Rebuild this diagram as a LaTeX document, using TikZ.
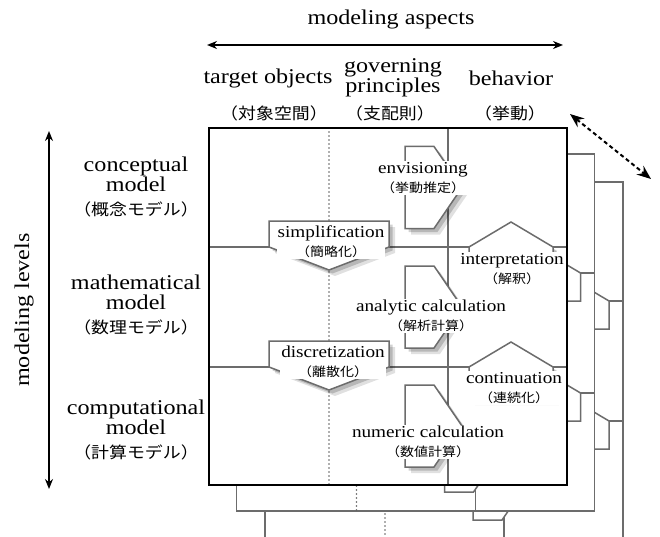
\documentclass[tikz,border=0pt]{standalone}
\usepackage{fontspec}
\setmainfont{Liberation Serif}[FakeStretch=1.15]
\newfontfamily\cjk{Noto Sans CJK JP}[FakeStretch=1.12]
\usepackage{tikz}
\usetikzlibrary{positioning}
\usetikzlibrary{calc}
\usetikzlibrary{arrows.meta}

\definecolor{linegray}{RGB}{108,108,108}
\newcommand{\jout}[1]{{\cjk\fontsize{16}{18}\selectfont #1}}
\newcommand{\jin}[1]{{\cjk\fontsize{12.5}{14}\selectfont #1}}

\begin{document}
\begin{tikzpicture}[x=1pt,y=-1pt,
    layerbox/.style={draw=linegray,line width=1.5pt,fill=white},
    gridline/.style={draw=linegray,line width=1.5pt},
    dotline/.style={draw=linegray!90!black,line width=1.7pt,line cap=round,dash pattern=on 0pt off 4pt},
    stage/.style={draw=linegray,line width=1.5pt,fill=white},
    shade/.style={
      preaction={fill=black,opacity=0.12,transform canvas={shift={(6pt,-6pt)}}},
      preaction={fill=black,opacity=0.18,transform canvas={shift={(3.5pt,-3.5pt)}}}},
    head/.style={font=\fontsize{21}{18}\selectfont,align=center,inner sep=0pt},
    level/.style={font=\fontsize{21}{20}\selectfont,align=center,inner sep=0pt},
    jphead/.style={inner sep=0pt},
    actlabel/.style={font=\fontsize{16.7}{19}\selectfont,align=center,fill=white,inner sep=1pt},
    dbl/.style={line width=1.6pt,{Stealth[length=10pt,width=8pt]}-{Stealth[length=10pt,width=8pt]}},
  ]
\useasboundingbox (0,0) rectangle (660,537);
\clip (0,0) rectangle (660,537);

% layers behind
\foreach \dx/\dy in {56/54,27.5/26}{
  \begin{scope}[shift={(\dx,\dy)}]
    \draw[layerbox] (209,128) rectangle (567,485);
    \draw[gridline] (209,247) -- (567,247) (209,367) -- (567,367) (448,128) -- (448,485);
    \draw[dotline] (329,128) -- (329,485);
    \foreach \yr in {247,367}
      \draw[stage] (511,\yr-25) -- (553,\yr) -- (553,\yr+28) -- (469,\yr+28) -- (469,\yr) -- cycle;
    \draw[stage] (417,385) -- (446,385) -- (474,425.5) -- (446,466) -- (417,466) -- cycle;
  \end{scope}
}

% front layer
\fill[white] (209,128) rectangle (567,485);
\draw[gridline] (209,247) -- (567,247) (209,367) -- (567,367) (448,128) -- (448,485);
\draw[dotline] (329,128) -- (329,485);
\foreach \yc in {187.5,307,426}
  \draw[stage,shade] (405,\yc-41) -- (434,\yc-41) -- (462,\yc) -- (434,\yc+41) -- (405,\yc+41) -- cycle;
\foreach \yr in {247,367}{
  \draw[stage,shade] (269,\yr-26) -- (389,\yr-26) -- (389,\yr) -- (329,\yr+23) -- (269,\yr) -- cycle;
  \draw[stage,shade] (511,\yr-25) -- (553,\yr) -- (553,\yr+32) -- (469,\yr+32) -- (469,\yr) -- cycle;
}

\node[actlabel] (envis) at (423,178) {envisioning\\\jin{（挙動推定）}};
\node[actlabel] (analytic) at (431,316) {analytic calculation\\\jin{（解析計算）}};
\node[actlabel] (numeric) at (428,442) {numeric calculation\\\jin{（数値計算）}};
\node[actlabel] (simplif) at (331,242) {simplification\\\jin{（簡略化）}};
\node[actlabel] (discret) at (333,362) {discretization\\\jin{（離散化）}};
\node[actlabel] (interp) at (512,269) {interpretation\\\jin{（解釈）}};
\node[actlabel] (contin) at (514,388) {continuation\\\jin{（連続化）}};

\draw[black,line width=1.8pt] (209,128) rectangle (567,485);

% headings
\node[head] (aspects) at (391,19) {modeling aspects};
\coordinate (aspL) at (207,45);
\coordinate (aspR) at (563,45);
\draw[dbl] (aspL) -- (aspR);

\node[head] (target) at (268,78) {target objects};
\node[head] (govern) at (393,78) {governing\\principles};
\node[head] (behav) at (511,78) {behavior};
\node[jphead] (targetjp) at (274,113) {\jout{（対象空間）}};
\node[jphead] (governjp) at (390,113) {\jout{（支配則）}};
\node[jphead] (behavjp) at (510,113) {\jout{（挙動）}};

\node[head,rotate=90] (levels) at (24,310) {modeling levels};
\coordinate (levT) at (49,131);
\coordinate (levB) at (49,489);
\draw[dbl] (levT) -- (levB);

\node[level] (concept) at (136,187) {conceptual\\model\\[4pt]\jout{（概念モデル）}};
\node[level] (mathem) at (136,305) {mathematical\\model\\[4pt]\jout{（数理モデル）}};
\node[level] (comput) at (136,430) {computational\\model\\[4pt]\jout{（計算モデル）}};

\coordinate (depthA) at (570,114);
\coordinate (depthB) at (651,179);
\draw[line width=2pt,dash pattern=on 4pt off 3pt,{Stealth[length=14pt,width=11pt]}-{Stealth[length=14pt,width=11pt]}] (depthA) -- (depthB);
\end{tikzpicture}
\end{document}
